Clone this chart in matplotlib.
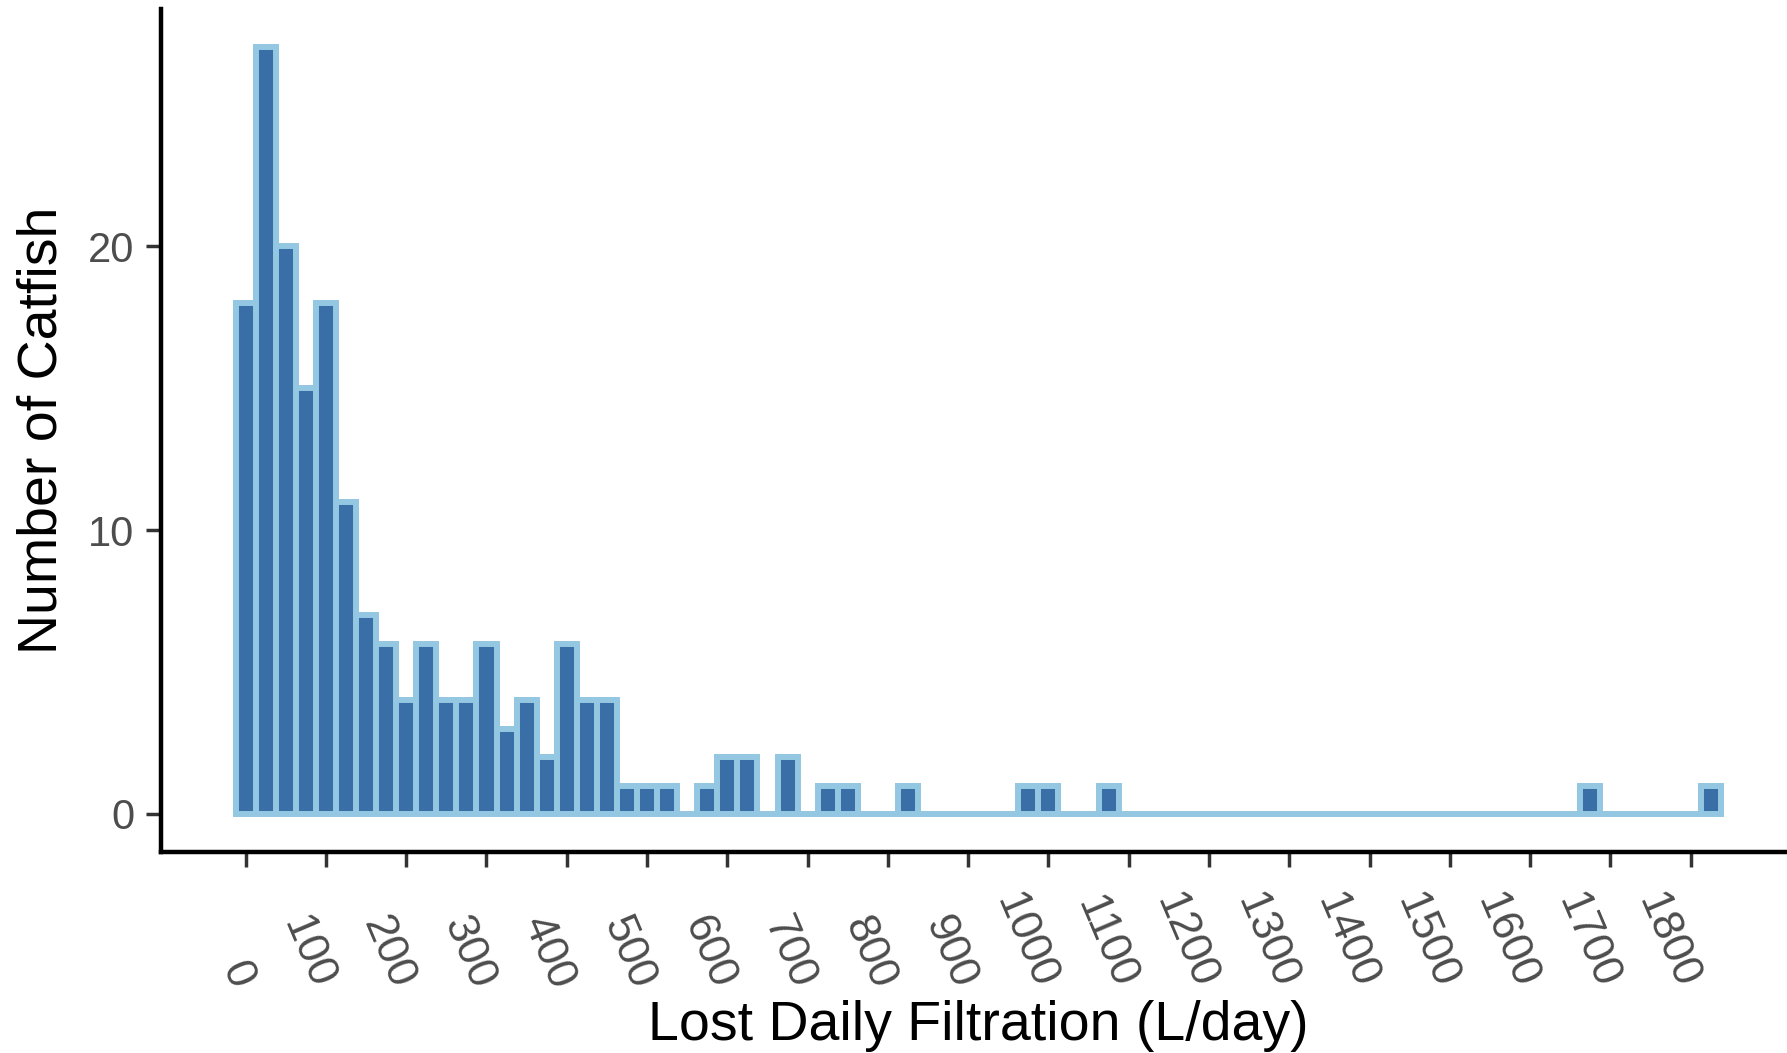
import numpy as np
import matplotlib
matplotlib.use("Agg")
import matplotlib.pyplot as plt
import matplotlib.transforms as mtransforms

# histogram counts, 25 L/day bins centred on multiples of 25
bin_width = 25
bin_centers = np.arange(0, 1826, bin_width)
counts = [18, 27, 20, 15, 18, 11, 7, 6, 4, 6,      # 0 - 225
          4, 4, 6, 3, 4, 2, 6, 4, 4, 1,             # 250 - 475
          1, 1, 0, 1, 2, 2, 0, 2, 0, 1,             # 500 - 725
          1, 0, 0, 1, 0, 0, 0, 0, 0, 1,             # 750 - 975
          1, 0, 0, 1, 0, 0, 0, 0, 0, 0,             # 1000 - 1225
          0, 0, 0, 0, 0, 0, 0, 0, 0, 0,             # 1250 - 1475
          0, 0, 0, 0, 0, 0, 0, 1, 0, 0,             # 1500 - 1725
          0, 0, 0, 1]                               # 1750 - 1825

x_ticks = list(range(0, 1801, 100))
y_ticks = [0, 10, 20]

fill_col = "#3A6EA6"
edge_col = "#94C7E1"

plt.rcParams["font.family"] = ["Liberation Sans", "DejaVu Sans"]

fig = plt.figure(figsize=(17.87, 10.53), dpi=100)
ax = fig.add_axes([0.0903, 0.1906, 0.9142, 0.8009])

ax.bar(bin_centers, counts, width=bin_width, color=fill_col,
       edgecolor=edge_col, linewidth=4.3, joinstyle="miter")

ax.set_xlim(-105, 1930)
ax.set_ylim(-1.35, 28.35)

for side in ["top", "right"]:
    ax.spines[side].set_visible(False)
for side in ["left", "bottom"]:
    ax.spines[side].set_linewidth(3.2)
    ax.spines[side].set_color("black")
    ax.spines[side].set_capstyle("projecting")

ax.set_xticks(x_ticks)
ax.set_xticklabels([str(t) for t in x_ticks])
ax.set_yticks(y_ticks)
ax.tick_params(axis="both", length=10.5, width=2.5, color="#333333",
               labelcolor="#4D4D4D", labelsize=30)
ax.tick_params(axis="y", pad=9)
ax.tick_params(axis="x", pad=92, labelsize=32)

# rotated x labels, bottom-aligned and nudged right of their ticks
shift = mtransforms.ScaledTranslation(15 / 100, 0, fig.dpi_scale_trans)
for lab in ax.get_xticklabels():
    lab.set_rotation(-67)
    lab.set_ha("right")
    lab.set_va("bottom")
    lab.set_transform(lab.get_transform() + shift)

ax.set_xlabel("Lost Daily Filtration (L/day)", fontsize=40, color="black",
              labelpad=4)
ax.set_ylabel("Number of Catfish", fontsize=40, color="black", labelpad=14)

fig.savefig("out.png", dpi=100)
